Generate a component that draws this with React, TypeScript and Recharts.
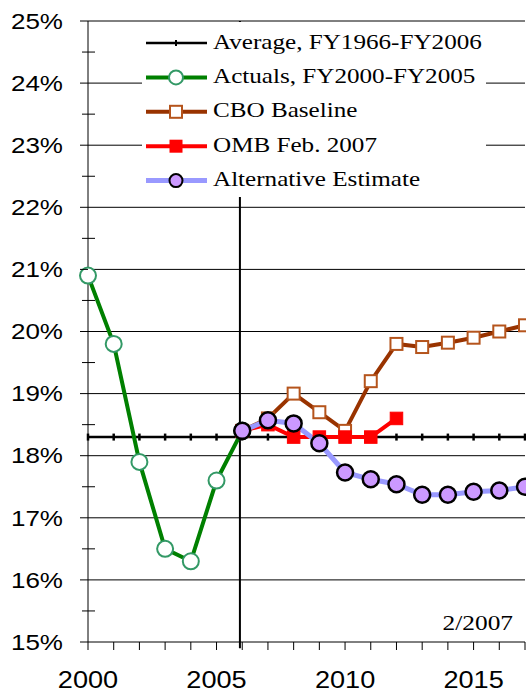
import { Line, LineChart, ReferenceLine, XAxis, YAxis } from "recharts";

// fiscal years on the category axis
const years = [2000, 2001, 2002, 2003, 2004, 2005, 2006, 2007, 2008, 2009, 2010, 2011, 2012, 2013, 2014, 2015, 2016, 2017];

// revenues, % of GDP
const average = [18.3, 18.3, 18.3, 18.3, 18.3, 18.3, 18.3, 18.3, 18.3, 18.3, 18.3, 18.3, 18.3, 18.3, 18.3, 18.3, 18.3, 18.3];
const actuals = [20.9, 19.8, 17.9, 16.5, 16.3, 17.6, 18.4, null, null, null, null, null, null, null, null, null, null, null];
const cboBaseline = [null, null, null, null, null, null, 18.4, 18.6, 19.0, 18.7, 18.4, 19.2, 19.8, 19.75, 19.82, 19.9, 20.0, 20.1];
const ombFeb2007 = [null, null, null, null, null, null, 18.4, 18.5, 18.3, 18.3, 18.3, 18.3, 18.6, null, null, null, null, null];
const altEstimate = [null, null, null, null, null, null, 18.4, 18.57, 18.52, 18.2, 17.73, 17.62, 17.54, 17.37, 17.37, 17.42, 17.44, 17.5];

const yTicks = [15, 15.5, 16, 16.5, 17, 17.5, 18, 18.5, 19, 19.5, 20, 20.5, 21, 21.5, 22, 22.5, 23, 23.5, 24, 24.5, 25];
const gridValues = [16, 17, 18, 19, 20, 21, 22, 23, 24, 25];
const xLabelYears = [2000, 2005, 2010, 2015];
const divider = 2005.91;

const seriesNames = [
  "Average, FY1966-FY2006",
  "Actuals, FY2000-FY2005",
  "CBO Baseline",
  "OMB Feb. 2007",
  "Alternative Estimate",
];
const dateNote = "2/2007";

const data = years.map((year, i) => ({
  year,
  avg: average[i],
  actual: actuals[i],
  cbo: cboBaseline[i],
  omb: ombFeb2007[i],
  alt: altEstimate[i],
}));

const SANS = '"Liberation Sans", Arial, sans-serif';
const SERIF = '"Liberation Serif", "Times New Roman", serif';
const STRETCH = 1.18;

const C = {
  green: "#008000",
  greenMark: "#339966",
  brown: "#993300",
  brownMark: "#b5541c",
  red: "#ff0000",
  altLine: "#9999ff",
  altFill: "#cc99ff",
};

type DotProps = { cx?: number | null; cy?: number | null; index?: number };

function circle(fill: string, stroke: string, r: number, sw: number) {
  return function CircleDot({ cx, cy, index }: DotProps) {
    if (cx == null || cy == null) return <g key={index} />;
    return <circle key={index} cx={cx} cy={cy} r={r} fill={fill} stroke={stroke} strokeWidth={sw} />;
  };
}

function square(fill: string, stroke: string, size: number, sw: number) {
  return function SquareDot({ cx, cy, index }: DotProps) {
    if (cx == null || cy == null) return <g key={index} />;
    return (
      <rect key={index} x={cx - size / 2} y={cy - size / 2} width={size} height={size} fill={fill} stroke={stroke} strokeWidth={sw} />
    );
  };
}

function tickDot({ cx, cy, index }: DotProps) {
  if (cx == null || cy == null) return <g key={index} />;
  return <line key={index} x1={cx} x2={cx} y1={cy - 3.5} y2={cy + 3.5} stroke="#000" strokeWidth={2.5} />;
}

const greenDot = circle("#fff", C.greenMark, 8, 2);
const cboDot = square("#fff", C.brownMark, 12, 2);
const ombDot = square(C.red, C.red, 12.5, 1);
const altDot = circle(C.altFill, "#000", 8, 2.5);

function YTick({ x, y, payload }: { x: number; y: number; payload: { value: number } }) {
  const v = payload.value;
  if (Number.isInteger(v)) {
    return (
      <g>
        <line x1={x - 8} x2={x} y1={y} y2={y} stroke="#000" />
        <text
          transform={`translate(${x - 25},${y + 7.7}) scale(${STRETCH + 0.03},1)`}
          textAnchor="end"
          fontFamily={SANS}
          fontSize={21.5}
          fill="#000"
        >
          {v}%
        </text>
      </g>
    );
  }
  return <line x1={x - 6} x2={x + 7} y1={y} y2={y} stroke="#000" />;
}

function XTick({ x, y, payload }: { x: number; y: number; payload: { value: number } }) {
  const v = payload.value;
  return (
    <g>
      <line x1={x} x2={x} y1={y} y2={y + 8} stroke="#000" />
      {xLabelYears.includes(v) ? (
        <text
          transform={`translate(${x},${y + 46}) scale(${STRETCH},1)`}
          textAnchor="middle"
          fontFamily={SANS}
          fontSize={23}
          fill="#000"
        >
          {v}
        </text>
      ) : null}
    </g>
  );
}

// legend swatches, same order as seriesNames
const swatches = [
  { stroke: "#000", width: 2.5, mark: (cx: number, cy: number) => <line x1={cx} x2={cx} y1={cy - 3} y2={cy + 3} stroke="#000" strokeWidth={2} /> },
  { stroke: C.green, width: 4, mark: (cx: number, cy: number) => <circle cx={cx} cy={cy} r={7} fill="#fff" stroke={C.greenMark} strokeWidth={2} /> },
  { stroke: C.brown, width: 4, mark: (cx: number, cy: number) => <rect x={cx - 6} y={cy - 6} width={12} height={12} fill="#fff" stroke={C.brownMark} strokeWidth={2} /> },
  { stroke: C.red, width: 4, mark: (cx: number, cy: number) => <rect x={cx - 6.5} y={cy - 6.5} width={13} height={13} fill={C.red} /> },
  { stroke: C.altLine, width: 5, mark: (cx: number, cy: number) => <circle cx={cx} cy={cy} r={6.5} fill={C.altFill} stroke="#000" strokeWidth={2} /> },
];

function LegendBox() {
  const left = 142;
  const top = 22;
  return (
    <div style={{ position: "absolute", left, top, width: 344, height: 175, background: "#fff" }}>
      <svg width={344} height={175}>
        {seriesNames.map((name, i) => {
          const cy = 43 + i * 34.4 - top;
          const s = swatches[i];
          return (
            <g key={name}>
              <line x1={146 - left} x2={207 - left} y1={cy} y2={cy} stroke={s.stroke} strokeWidth={s.width} />
              {s.mark(176 - left, cy)}
              <text
                transform={`translate(${213 - left},${cy + 5.6}) scale(${STRETCH},1)`}
                fontFamily={SERIF}
                fontSize={21.3}
                fill="#000"
              >
                {name}
              </text>
            </g>
          );
        })}
      </svg>
    </div>
  );
}

export default function App() {
  return (
    <div style={{ position: "relative", width: 526, height: 694, background: "#fff" }}>
      <style>{"body{margin:0}"}</style>
      <LineChart width={526} height={694} data={data} margin={{ top: 21, right: 1, bottom: 0, left: 0 }}>
        {gridValues.map((g) => (
          <ReferenceLine key={g} y={g} stroke="#000" strokeWidth={1} />
        ))}
        <ReferenceLine
          segment={[
            { x: divider, y: 14.9 },
            { x: divider, y: 25 },
          ]}
          stroke="#000"
          strokeWidth={2}
          ifOverflow="visible"
        />
        <XAxis
          dataKey="year"
          type="number"
          domain={[2000, 2017]}
          ticks={years}
          interval={0}
          height={52}
          tickSize={0}
          tickMargin={0}
          tickLine={false}
          axisLine={{ stroke: "#000" }}
          tick={XTick as any}
        />
        <YAxis
          domain={[15, 25]}
          ticks={yTicks}
          interval={0}
          width={88}
          tickSize={0}
          tickMargin={0}
          tickLine={false}
          axisLine={{ stroke: "#000" }}
          tick={YTick as any}
        />
        <Line dataKey="avg" name={seriesNames[0]} stroke="#000" strokeWidth={2.5} dot={tickDot as any} isAnimationActive={false} />
        <Line dataKey="actual" name={seriesNames[1]} stroke={C.green} strokeWidth={4} dot={greenDot as any} isAnimationActive={false} />
        <Line dataKey="cbo" name={seriesNames[2]} stroke={C.brown} strokeWidth={4} dot={cboDot as any} isAnimationActive={false} />
        <Line dataKey="omb" name={seriesNames[3]} stroke={C.red} strokeWidth={4} dot={ombDot as any} isAnimationActive={false} />
        <Line dataKey="alt" name={seriesNames[4]} stroke={C.altLine} strokeWidth={5} dot={altDot as any} isAnimationActive={false} />
      </LineChart>
      <LegendBox />
      <svg width={526} height={694} style={{ position: "absolute", left: 0, top: 0, pointerEvents: "none" }}>
        <text
          transform={`translate(513,630) scale(${STRETCH},1)`}
          textAnchor="end"
          fontFamily={SERIF}
          fontSize={21.5}
          fill="#000"
        >
          {dateNote}
        </text>
      </svg>
    </div>
  );
}
